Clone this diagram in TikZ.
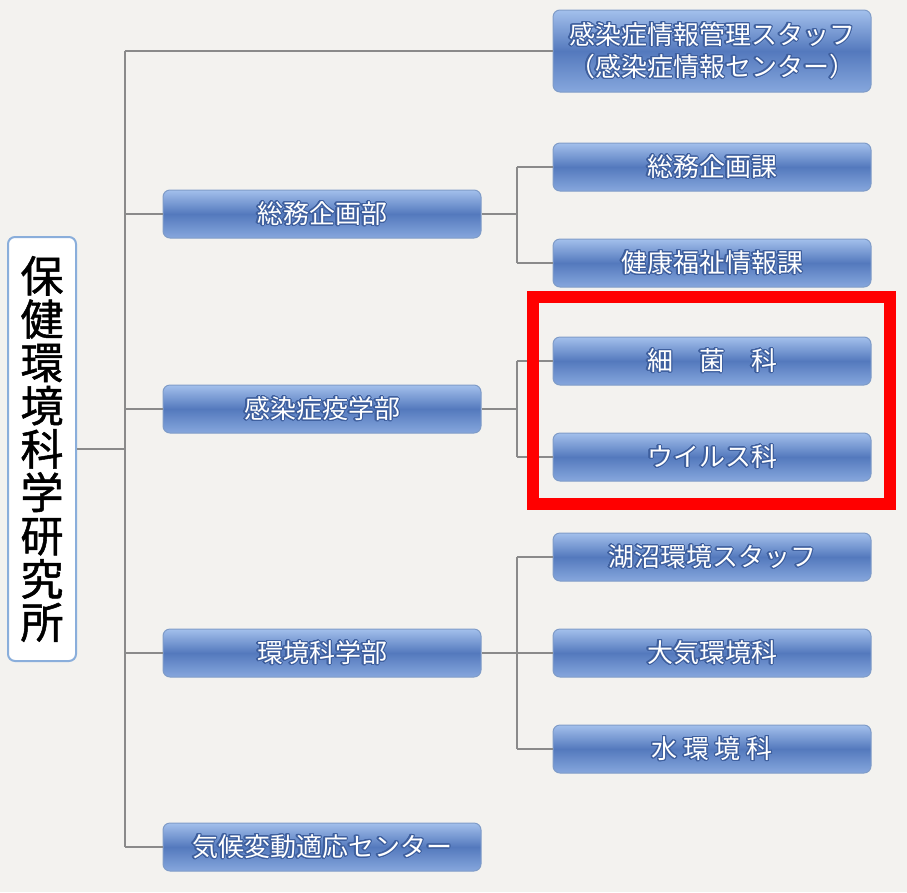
\documentclass[tikz,border=0pt]{standalone}
\usepackage{fontspec}
\usepackage{contour}
\contourlength{1.1pt}
\contournumber{24}
\setmainfont{Noto Sans CJK JP}
\newfontfamily\jp{Noto Sans CJK JP}
\newfontfamily\jpb[FakeBold=1.2]{Noto Sans CJK JP}
\definecolor{bg}{HTML}{F3F2EF}
\definecolor{linegray}{HTML}{8A8A8A}
\definecolor{boxtop}{HTML}{A3C0EC}
\definecolor{boxmid}{HTML}{5479BD}
\definecolor{boxbot}{HTML}{86A7DD}
\definecolor{boxborder}{HTML}{7F9CC8}
\definecolor{rootborder}{HTML}{8AAEDB}
\definecolor{glowblue}{HTML}{3E5F9E}
\newcommand{\gl}[1]{\contour{glowblue}{#1}}
\begin{document}
\begin{tikzpicture}[x=1pt,y=-1pt,
  bluebox/.style={draw=boxborder, line width=1pt, rounded corners=7pt,
    top color=boxtop, bottom color=boxbot, middle color=boxmid,
    minimum width=318pt, minimum height=48pt, inner sep=0pt,
    text=white, font=\jp\fontsize{26}{30}\selectfont, align=center},
  conn/.style={draw=linegray, line width=2.8pt}
]
\useasboundingbox (0,0) rectangle (907,892);
\fill[bg] (0,0) rectangle (907,892);

\coordinate (ttop) at (125,51);
\coordinate (tbot) at (125,847);
\coordinate (troot) at (125,449);
\coordinate (t1) at (125,214);
\coordinate (t2) at (125,409);
\coordinate (t3) at (125,653);
\coordinate (s1) at (517,167);
\coordinate (s2) at (517,263);
\coordinate (sm) at (517,214);
\coordinate (k1) at (517,361);
\coordinate (k2) at (517,457);
\coordinate (km) at (517,409);
\coordinate (e1) at (517,557);
\coordinate (e3) at (517,749);

% root
\node[draw=rootborder, line width=2pt, fill=white, rounded corners=7pt,
  minimum width=68pt, minimum height=424pt, inner sep=0pt, align=center,
  font=\jpb\fontsize{43}{43.3}\selectfont] (root) at (42,449)
  {保\\健\\環\\境\\科\\学\\研\\究\\所};

% top staff box
\node[bluebox, minimum height=82pt, font=\jp\fontsize{26}{32}\selectfont] (staff) at (712,51)
  {\gl{感染症情報管理スタッフ}\\\gl{（感染症情報センター）}};

% level 1
\node[bluebox] (somu) at (322,214) {\gl{総務企画部}};
\node[bluebox] (kansen) at (322,409) {\gl{感染症疫学部}};
\node[bluebox] (kankyo) at (322,653) {\gl{環境科学部}};
\node[bluebox] (kiko) at (322,847) {\gl{気候変動適応センター}};

% level 2
\node[bluebox] (somuka) at (712,167) {\gl{総務企画課}};
\node[bluebox] (kenko) at (712,263) {\gl{健康福祉情報課}};
\node[bluebox] (saikin) at (712,361) {\gl{細　菌　科}};
\node[bluebox] (virus) at (712,457) {\gl{ウイルス科}};
\node[bluebox] (kosho) at (712,557) {\gl{湖沼環境スタッフ}};
\node[bluebox] (taiki) at (712,653) {\gl{大気環境科}};
\node[bluebox] (mizu) at (712,749) {\gl{水 環 境 科}};

% connectors
\draw[conn] (root.east |- troot) -- (troot);
\draw[conn] (ttop) -- (tbot);
\draw[conn] (ttop) -- (staff.west |- ttop);
\draw[conn] (t1) -- (somu.west);
\draw[conn] (t2) -- (kansen.west);
\draw[conn] (t3) -- (kankyo.west);
\draw[conn] (tbot) -- (kiko.west);

\draw[conn] (somu.east) -- (sm);
\draw[conn] (s1) -- (s2);
\draw[conn] (s1) -- (somuka.west);
\draw[conn] (s2) -- (kenko.west);

\draw[conn] (kansen.east) -- (km);
\draw[conn] (k1) -- (k2);
\draw[conn] (k1) -- (saikin.west);
\draw[conn] (k2) -- (virus.west);

\draw[conn] (kankyo.east) -- (taiki.west);
\draw[conn] (e1) -- (e3);
\draw[conn] (e1) -- (kosho.west);
\draw[conn] (e3) -- (mizu.west);

% highlight
\draw[red, line width=12pt] (533,297) rectangle (889.5,504);
\end{tikzpicture}
\end{document}
